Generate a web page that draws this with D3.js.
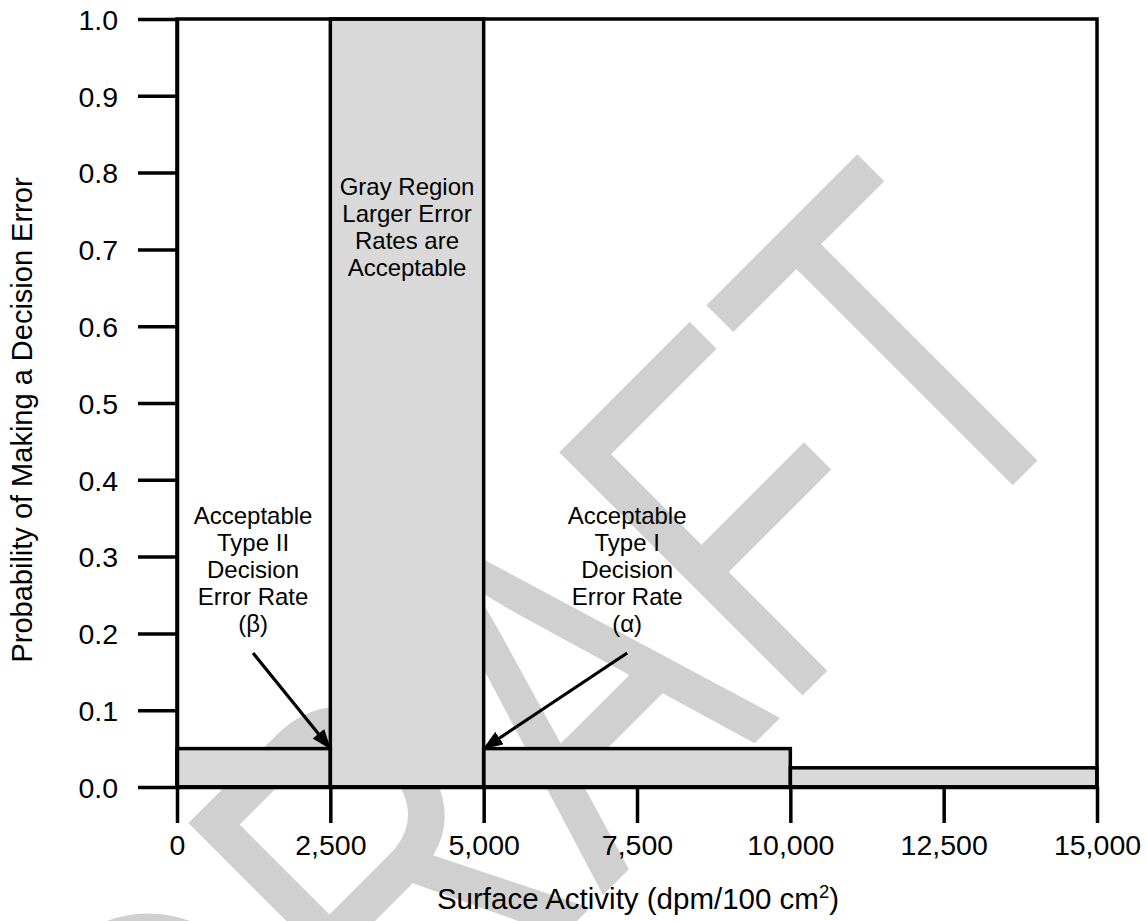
<!DOCTYPE html>
<html><head><meta charset="utf-8">
<script src="https://cdn.jsdelivr.net/npm/d3@7"></script>
<style>
body{margin:0;background:#fff}
svg{display:block}
text{font-family:Arial,"Liberation Sans",sans-serif;fill:#000}
</style>
</head><body>
<svg id="chart" width="1147" height="921"></svg>
<script>
// ---- data ----
const regionStarts = [0, 2500, 5000, 10000];
const regionEnds   = [2500, 5000, 10000, 15000];
const errorRates   = [0.05, 1.0, 0.05, 0.025];
const xTicks = [0, 2500, 5000, 7500, 10000, 12500, 15000];
const yTicks = [0.0, 0.1, 0.2, 0.3, 0.4, 0.5, 0.6, 0.7, 0.8, 0.9, 1.0];
const grayLabel   = ["Gray Region", "Larger Error", "Rates are", "Acceptable"];
const typeIILabel = ["Acceptable", "Type II", "Decision", "Error Rate", "(β)"];
const typeILabel  = ["Acceptable", "Type I", "Decision", "Error Rate", "(α)"];
const labelAnchors = [ // [x, y] in data units: first-line baseline
  {lines: grayLabel,   x: 3750, y: 0.771},
  {lines: typeIILabel, x: 1240, y: 0.342},
  {lines: typeILabel,  x: 7340, y: 0.342}
];
const arrows = [ // from label to boundary
  {x1: 1240, y1: 0.1745, x2: 2500, y2: 0.05},
  {x1: 7340, y1: 0.1745, x2: 5000, y2: 0.05}
];
const xTitle = "Surface Activity (dpm/100 cm";
const yTitle = "Probability of Making a Decision Error";
const watermark = "DRAFT";

// ---- layout ----
const svg = d3.select("#chart");
const x = d3.scaleLinear().domain([0, 15000]).range([177, 1097]);
const y = d3.scaleLinear().domain([0, 1]).range([787, 19]);
const SW = 3.5;
const FILL = "#d9d9d9";

// watermark (behind everything)
svg.append("g")
  .attr("transform", "translate(217,1281) rotate(-45) scale(0.755,1)")
  .append("text")
  .attr("x", 0).attr("y", 0)
  .style("font-size", "500px")
  .style("fill", "#d0d0d0")
  .text(watermark);

const regions = regionStarts.map((s, i) => ({x0: s, x1: regionEnds[i], v: errorRates[i]}));

// fills
svg.append("g").selectAll("rect").data(regions).join("rect")
  .attr("x", d => x(d.x0)).attr("y", d => y(d.v))
  .attr("width", d => x(d.x1) - x(d.x0)).attr("height", d => y(0) - y(d.v))
  .attr("fill", FILL);

// outlines of regions
svg.append("g").selectAll("rect").data(regions).join("rect")
  .attr("x", d => x(d.x0)).attr("y", d => y(d.v))
  .attr("width", d => x(d.x1) - x(d.x0)).attr("height", d => y(0) - y(d.v))
  .attr("fill", "none").attr("stroke", "#000").attr("stroke-width", SW);

// frame
svg.append("rect")
  .attr("x", x(0)).attr("y", y(1))
  .attr("width", x(15000) - x(0)).attr("height", y(0) - y(1))
  .attr("fill", "none").attr("stroke", "#000").attr("stroke-width", SW)
  .attr("stroke-linecap", "square");

// y axis
const yAxis = svg.append("g").attr("transform", `translate(${x(0)},0)`)
  .call(d3.axisLeft(y).tickValues(yTicks).tickSize(39).tickSizeOuter(0).tickPadding(20).tickFormat(d3.format(".1f")));
yAxis.select(".domain").attr("stroke", "#000").attr("stroke-width", SW);
yAxis.selectAll(".tick line").attr("stroke", "#000").attr("stroke-width", SW);
yAxis.selectAll(".tick text").style("font-size", "28.5px").attr("dy", "0.36em").attr("fill", "#000");

// x axis
const xAxis = svg.append("g").attr("transform", `translate(0,${y(0)})`)
  .call(d3.axisBottom(x).tickValues(xTicks).tickSize(36).tickSizeOuter(0).tickPadding(12).tickFormat(d3.format(",")));
xAxis.select(".domain").attr("stroke", "#000").attr("stroke-width", SW);
xAxis.selectAll(".tick line").attr("stroke", "#000").attr("stroke-width", SW);
xAxis.selectAll(".tick text").style("font-size", "28.5px").attr("fill", "#000");

// arrows
const defs = svg.append("defs");
defs.append("marker").attr("id", "ah")
  .attr("markerUnits", "userSpaceOnUse")
  .attr("viewBox", "0 0 20 15").attr("refX", 19).attr("refY", 7.5)
  .attr("markerWidth", 20).attr("markerHeight", 15).attr("orient", "auto")
  .append("path").attr("d", "M0,0 L20,7.5 L0,15 Z").attr("fill", "#000");
svg.append("g").selectAll("line").data(arrows).join("line")
  .attr("x1", d => x(d.x1)).attr("y1", d => y(d.y1))
  .attr("x2", d => x(d.x2)).attr("y2", d => y(d.y2))
  .attr("stroke", "#000").attr("stroke-width", 3.2)
  .attr("marker-end", "url(#ah)");

// annotation labels
labelAnchors.forEach(l => {
  const t = svg.append("text").attr("text-anchor", "middle").style("font-size", "24px");
  l.lines.forEach((s, i) => {
    t.append("tspan").attr("x", x(l.x)).attr("y", y(l.y) + i * 27).text(s);
  });
});

// axis titles
const xt = svg.append("text").attr("x", 638).attr("y", 909)
  .attr("text-anchor", "middle").style("font-size", "29.5px");
xt.append("tspan").text(xTitle);
xt.append("tspan").attr("dy", -11).style("font-size", "18.5px").text("2");
xt.append("tspan").attr("dy", 11).text(")");

svg.append("text")
  .attr("transform", "translate(32,420) rotate(-90)")
  .attr("text-anchor", "middle").style("font-size", "29px")
  .text(yTitle);
</script>
</body></html>
